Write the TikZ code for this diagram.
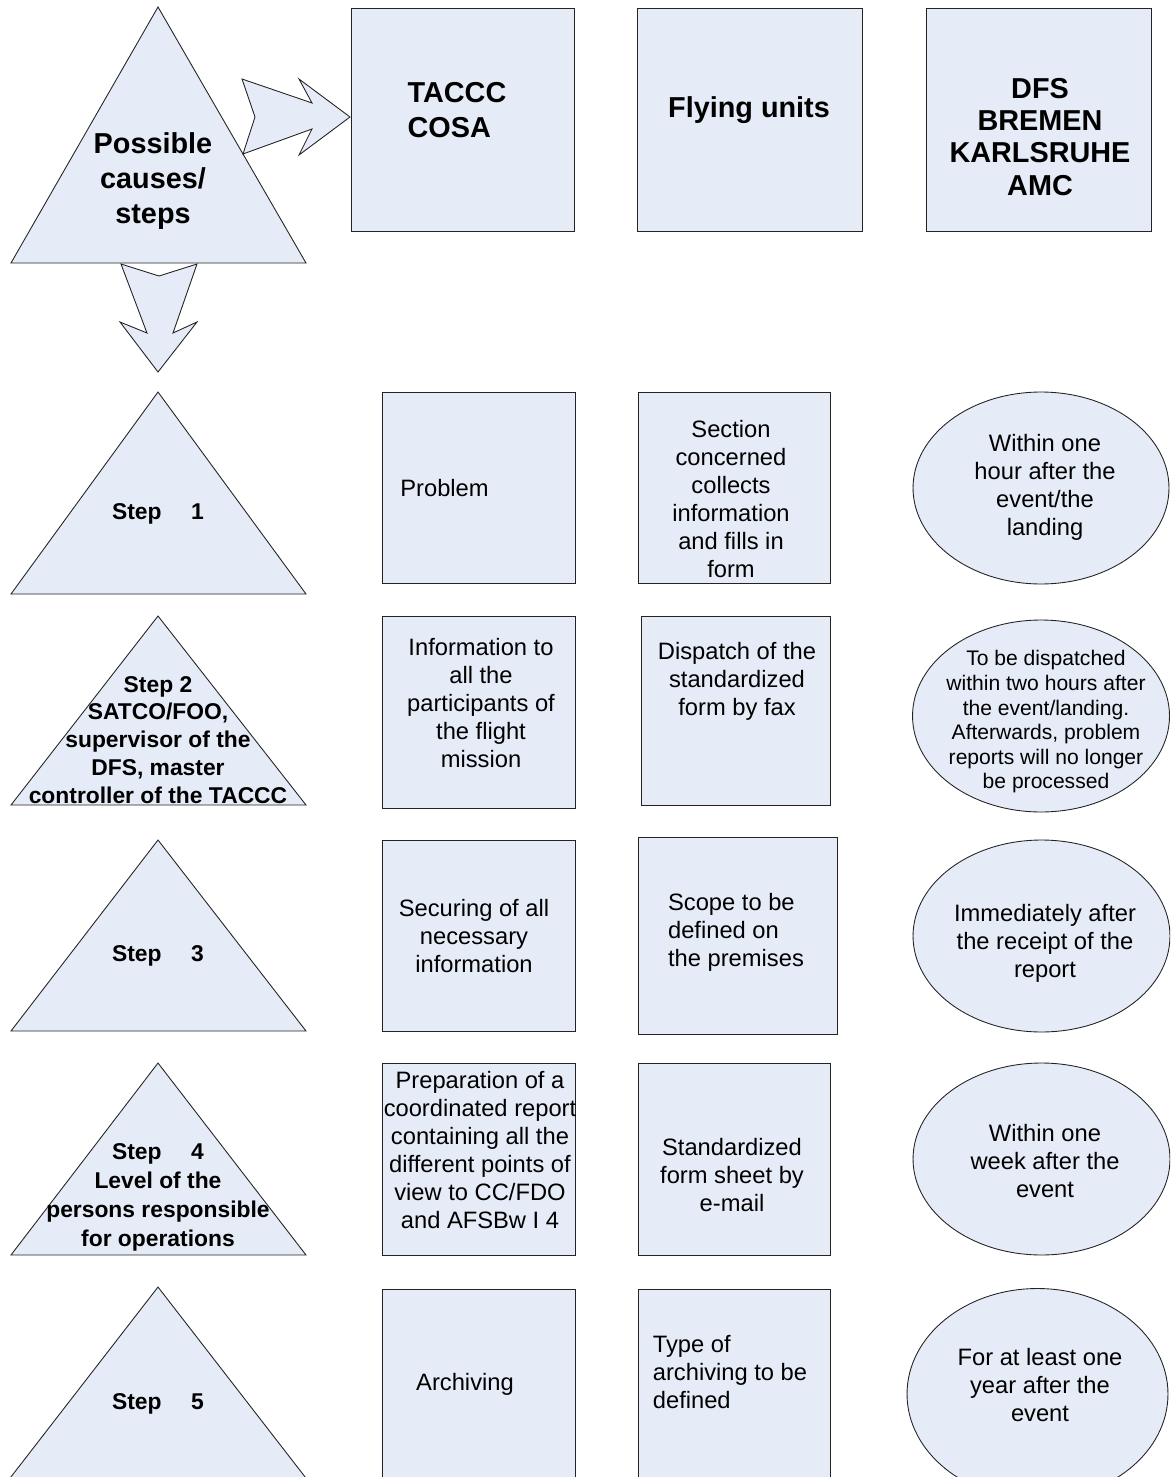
\documentclass[tikz,border=0pt]{standalone}
\usepackage{fontspec}
\setmainfont{Liberation Sans}
\usepackage{tikz}
\usetikzlibrary{shapes.geometric,positioning}

\definecolor{paleblue}{RGB}{230,236,247}
\definecolor{edgegray}{RGB}{35,35,35}

\tikzset{
	shade/.style={fill=paleblue,draw=edgegray,line width=0.5pt},
	head/.style={font=\fontsize{16.4}{19.9}\selectfont\bfseries,align=center,inner sep=0pt},
	steptext/.style={font=\fontsize{13}{15.9}\selectfont\bfseries,align=center,inner sep=0pt},
	body/.style={font=\fontsize{13.5}{15.9}\selectfont,align=center,inner sep=0pt},
	small/.style={font=\fontsize{12}{14}\selectfont,align=center,inner sep=0pt}
}

\begin{document}
\begin{tikzpicture}[x=0.02cm,y=-0.02cm]
			\useasboundingbox (0,0) rectangle (1170,1477);
			\clip (0,0) rectangle (1170,1477);

			% triangles
			\path[shade] (158,7) -- (306,263) -- (11,263) -- cycle;
			\path[shade] (158,392) -- (306,594) -- (11,594) -- cycle;
			\path[shade] (158,616) -- (306,805) -- (11,805) -- cycle;
			\path[shade] (158,840) -- (306,1031) -- (11,1031) -- cycle;
			\path[shade] (158,1063) -- (306,1255) -- (11,1255) -- cycle;
			\path[shade] (158,1287) -- (309,1482) -- (7,1482) -- cycle;

			% block arrows
			\path[shade] (242,79) -- (312,103) -- (299,79) -- (350,117) -- (299,155)
				-- (312,129) -- (243,154) -- (255,117) -- cycle;
			\path[shade] (121,264) -- (159,276) -- (197,264) -- (173,333) -- (197,322)
				-- (158,372) -- (120,322) -- (147,333) -- cycle;

			\begin{scope}[every node/.style={shade,rectangle,inner sep=0pt}]
				\node[minimum width=4.46cm,minimum height=4.46cm] (T) at (462.5,119.5) {};
				\node[minimum width=4.5cm,minimum height=4.46cm] (F) at (749.5,119.5) {};
				\node[minimum width=4.5cm,minimum height=4.46cm] (D) at (1038.5,119.5) {};
				\node[minimum width=3.86cm,minimum height=3.82cm] (P1) at (478.5,487.5) {};
				\node[minimum width=3.84cm,minimum height=3.82cm] (U1) at (734,487.5) {};
				\node[minimum width=3.86cm,minimum height=3.84cm] (P2) at (478.5,712) {};
				\node[minimum width=3.78cm,minimum height=3.78cm] (U2) at (735.5,710.5) {};
				\node[minimum width=3.86cm,minimum height=3.82cm] (P3) at (478.5,935.5) {};
				\node[minimum width=3.98cm,minimum height=3.94cm] (U3) at (737.5,935.5) {};
				\node[minimum width=3.86cm,minimum height=3.84cm] (P4) at (478.5,1159) {};
				\node[minimum width=3.84cm,minimum height=3.84cm] (U4) at (734,1159) {};
				\node[minimum width=3.86cm,minimum height=4.1cm] (P5) at (478.5,1392) {};
				\node[minimum width=3.84cm,minimum height=4.1cm] (U5) at (734,1392) {};
			\end{scope}

			\begin{scope}[every node/.style={shade,ellipse,inner sep=0pt}]
				\node[minimum width=5.12cm,minimum height=3.84cm] (E1) at (1041,488) {};
				\node[minimum width=5.14cm,minimum height=3.84cm] (E2) at (1041,716) {};
				\node[minimum width=5.14cm,minimum height=3.84cm] (E3) at (1041.5,936) {};
				\node[minimum width=5.14cm,minimum height=3.84cm] (E4) at (1041.5,1159) {};
				\node[minimum width=5.22cm,minimum height=4.22cm] (E5) at (1037.5,1394) {};
			\end{scope}

			% headings
			\node[head] (cause) at (153,181) {Possible\\causes/\\steps};
			\node[head,align=left] (tac) at (457,110) {TACCC\\COSA};
			\node[head] (fly) at (749,110) {Flying units};
			\node[head,font=\fontsize{16.4}{18.3}\selectfont\bfseries] (dfs) at (1040,137) {DFS\\BREMEN\\KARLSRUHE\\AMC};

			% step labels
			\node[steptext] (s1) at (158,514) {Step\hspace{1.3em}1};
			\begin{scope}
				\clip (0,600) rectangle (320,803);
				\node[steptext] (s2) at (158,740) {Step 2\\SATCO/FOO,\\supervisor of the\\DFS, master\\controller of the TACCC};
			\end{scope}
			\node[steptext] (s3) at (158,956) {Step\hspace{1.3em}3};
			\begin{scope}
				\clip (0,1050) rectangle (320,1251);
				\node[steptext,font=\fontsize{13}{16.5}\selectfont\bfseries] (s4) at (158,1197) {Step\hspace{1.3em}4\\Level of the\\persons responsible\\for operations};
			\end{scope}
			\node[steptext] (s5) at (158,1404) {Step\hspace{1.3em}5};

			% TACCC column
			\node[body,anchor=west] (t1) at (400,488) {Problem};
			\node[body] (t2) at (481,703) {Information to\\all the\\participants of\\the flight\\mission};
			\node[body] (t3) at (474,936) {Securing of all\\necessary\\information};
			\node[body] (t4) at (480,1150) {Preparation of a\\coordinated report\\containing all the\\different points of\\view to CC/FDO\\and AFSBw I 4};
			\node[body] (t5) at (465,1384) {Archiving};

			% flying units column
			\node[body] (f1) at (731,499) {Section\\concerned\\collects\\information\\and fills in\\form};
			\node[body] (f2) at (737,681) {Dispatch of the\\standardized\\form by fax};
			\node[body,align=left] (f3) at (736,932) {Scope to be\\defined on\\the premises};
			\node[body] (f4) at (732,1175) {Standardized\\form sheet by\\e-mail};
			\node[body,align=left] (f5) at (730,1372) {Type of\\archiving to be\\defined};

			% DFS column
			\node[body] (d1) at (1045,487) {Within one\\hour after the\\event/the\\landing};
			\node[small] (d2) at (1046,722) {To be dispatched\\within two hours after\\the event/landing.\\Afterwards, problem\\reports will no longer\\be processed};
			\node[body] (d3) at (1045,943) {Immediately after\\the receipt of the\\report};
			\node[body] (d4) at (1045,1161) {Within one\\week after the\\event};
			\node[body] (d5) at (1040,1385) {For at least one\\year after the\\event};
		\end{tikzpicture}
\end{document}
